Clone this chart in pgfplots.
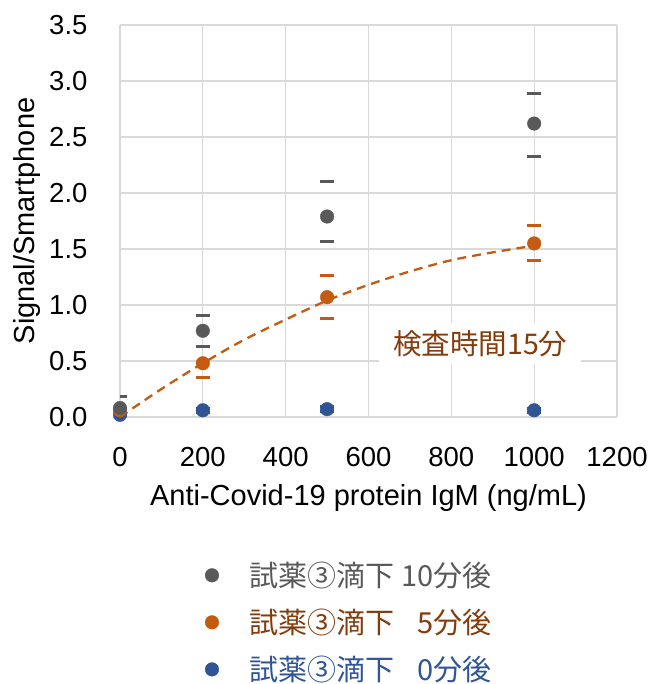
\documentclass[border=0pt]{standalone}
\usepackage{pgfplots}
\pgfplotsset{compat=1.18}
\usepackage{fontspec}
\setmainfont{Liberation Sans}
\newfontfamily\cjk{Noto Sans CJK JP}
\definecolor{cgray}{HTML}{595959}
\definecolor{corange}{HTML}{C55A11}
\definecolor{cblue}{HTML}{2F5597}
\definecolor{cbrown}{HTML}{843C0C}
\definecolor{cgrid}{HTML}{D9D9D9}
\definecolor{ctxtgray}{HTML}{595959}

\pgfplotstableread{
x y ep em
0 0.08 0.10 0.05
200 0.77 0.14 0.145
500 1.79 0.31 0.22
1000 2.62 0.27 0.29
}\grayd
\pgfplotstableread{
x y ep em
0 0.06 0.02 0.02
200 0.48 0.145 0.13
500 1.07 0.19 0.19
1000 1.55 0.16 0.15
}\oranged
\pgfplotstableread{
x y ep em
0 0.02 0.01 0.01
200 0.06 0.02 0.02
500 0.07 0.02 0.02
1000 0.06 0.02 0.02
}\blued
\pgfplotstableread{
x y
0 0.00
100 0.25
200 0.48
300 0.69
400 0.87
500 1.04
600 1.18
700 1.30
800 1.40
900 1.47
1000 1.53
}\trend

\begin{document}
\begin{tikzpicture}
\useasboundingbox (0pt,0pt) rectangle (665pt,684pt);
\begin{axis}[
  at={(120pt,267pt)}, anchor=south west,
  scale only axis, width=497pt, height=392pt,
  xmin=0, xmax=1200, ymin=0, ymax=3.5,
  xtick={0,200,...,1200}, ytick={0,0.5,...,3.5},
  grid=major, grid style={cgrid, line width=1.2pt},
  axis line style={draw=none},
  major tick length=0pt,
  /pgf/number format/assume math mode=true,
  /pgf/number format/1000 sep={},
  ticklabel style={font=\fontsize{27.5}{32}\selectfont},
  yticklabel style={/pgf/number format/fixed, /pgf/number format/fixed zerofill, /pgf/number format/precision=1, xshift=-29pt},
  xticklabel style={yshift=-27pt},
  xlabel={Anti-Covid-19 protein IgM (ng/mL)},
  ylabel={Signal/Smartphone},
  label style={font=\fontsize{29}{34}\selectfont},
  xlabel style={yshift=-11pt},
  ylabel style={yshift=2pt},
  reverse legend,
  legend cell align=left,
  legend style={at={(0.171,-0.365)}, anchor=north west, draw=none, fill=none,
    inner sep=0pt, row sep=17pt, font=\cjk\fontsize{29}{34}\selectfont},
  legend image code/.code={\draw[mark repeat=2,mark phase=2,#1] plot coordinates {(0pt,0pt) (7pt,0pt) (14pt,0pt)};},
  error bars/y dir=both, error bars/y explicit,
  error bars/error mark=-,
  error bars/error bar style={draw opacity=0},
]
\addplot[forget plot, corange, line width=2.3pt, dash pattern=on 9pt off 6pt, smooth] table[x=x,y=y] {\trend};
\addplot[only marks, mark=*, mark size=6.8pt, cblue, mark options={draw=cblue, fill=cblue},
  error bars/error mark options={draw=cblue, draw opacity=1, line width=3pt, mark size=7pt, rotate=90}]
  table[x=x, y=y, y error plus=ep, y error minus=em] {\blued};
\addlegendentry{\textcolor{cblue}{\hspace*{29pt}試薬③滴下 \phantom{1}0分後}}
\addplot[only marks, mark=*, mark size=6.8pt, corange, mark options={draw=corange, fill=corange},
  error bars/error mark options={draw=corange, draw opacity=1, line width=3pt, mark size=7pt, rotate=90}]
  table[x=x, y=y, y error plus=ep, y error minus=em] {\oranged};
\addlegendentry{\textcolor{cbrown}{\hspace*{29pt}試薬③滴下 \phantom{1}5分後}}
\addplot[only marks, mark=*, mark size=6.8pt, cgray, mark options={draw=cgray, fill=cgray},
  error bars/error mark options={draw=cgray, draw opacity=1, line width=3pt, mark size=7pt, rotate=90}]
  table[x=x, y=y, y error plus=ep, y error minus=em] {\grayd};
\addlegendentry{\textcolor{ctxtgray}{\hspace*{29pt}試薬③滴下 10分後}}
\node[fill=white, text=cbrown, font=\cjk\fontsize{28.5}{32}\selectfont, inner xsep=14pt, inner ysep=7pt] at (axis cs:870,0.655) {検査時間15分};
\end{axis}
\end{tikzpicture}
\end{document}
